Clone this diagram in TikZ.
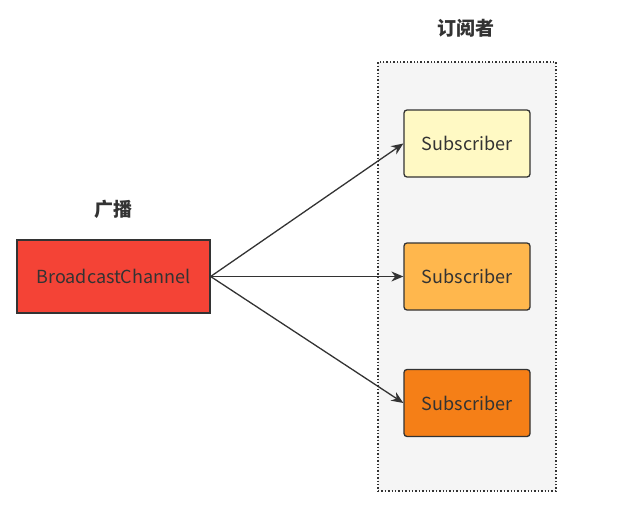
\documentclass[tikz,border=0pt]{standalone}
\usepackage{fontspec}
\setmainfont{Noto Sans CJK SC}
\usetikzlibrary{arrows.meta}
\definecolor{edgec}{HTML}{333333}
\definecolor{txtc}{HTML}{333333}
\definecolor{redf}{HTML}{F44336}
\definecolor{yelf}{HTML}{FFF9C4}
\definecolor{orgf}{HTML}{FFB74D}
\definecolor{dorf}{HTML}{F57F17}
\definecolor{grpf}{HTML}{F5F5F5}
\tikzset{
  box/.style={draw=edgec, line width=1.3pt, minimum width=126pt, minimum height=67pt, rounded corners=3pt, text=txtc, font=\fontsize{18}{21}\selectfont, inner sep=0pt},
  title/.style={text=txtc, font=\bfseries\fontsize{19}{22}\selectfont},
  conn/.style={draw=edgec, line width=1.3pt, -{Stealth[length=12pt,width=10pt]}}
}
\begin{document}
\begin{tikzpicture}[x=1pt,y=-1pt]
\useasboundingbox (0,0) rectangle (638,525);
\node[draw=edgec, dotted, line width=1.4pt, fill=grpf, minimum width=178pt, minimum height=429pt, inner sep=0pt] (grp) at (467,276.5) {};
\node[title] (t1) at (466,28) {订阅者};
\node[title] (t2) at (113,209) {广播};
\node[box, fill=redf, rounded corners=0pt, minimum width=193pt, minimum height=73pt] (bc) at (113.5,276.5) {BroadcastChannel};
\node[box, fill=yelf] (s1) at (467,143.5) {Subscriber};
\node[box, fill=orgf] (s2) at (467,276.5) {Subscriber};
\node[box, fill=dorf] (s3) at (467,403) {Subscriber};
\draw[conn] (bc.east) -- (s1.west);
\draw[conn] (bc.east) -- (s2.west);
\draw[conn] (bc.east) -- (s3.west);
\end{tikzpicture}
\end{document}
